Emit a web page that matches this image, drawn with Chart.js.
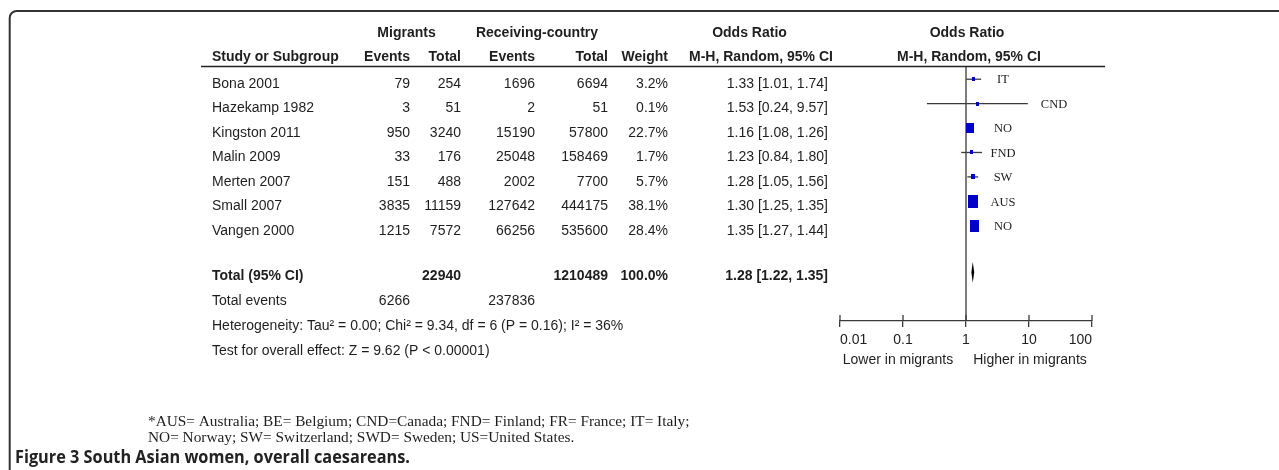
<!DOCTYPE html>
<html><head><meta charset="utf-8">
<script src="https://cdn.jsdelivr.net/npm/chart.js@4.4.1/dist/chart.umd.min.js"></script>
<style>html,body{margin:0;padding:0;background:#fff;}canvas{display:block;}</style>
</head><body>
<canvas id="c" width="1279" height="470"></canvas>
<script>
// ---- data ----
const studies = ['Bona 2001','Hazekamp 1982','Kingston 2011','Malin 2009','Merten 2007','Small 2007','Vangen 2000'];
const countries = ['IT','CND','NO','FND','SW','AUS','NO'];
const migEvents = [79,3,950,33,151,3835,1215];
const migTotal = [254,51,3240,176,488,11159,7572];
const recEvents = [1696,2,15190,25048,2002,127642,66256];
const recTotal = [6694,51,57800,158469,7700,444175,535600];
const weights = [3.2,0.1,22.7,1.7,5.7,38.1,28.4];
const oddsRatio = [1.33,1.53,1.16,1.23,1.28,1.30,1.35];
const ciLow = [1.01,0.24,1.08,0.84,1.05,1.25,1.27];
const ciHigh = [1.74,9.57,1.26,1.80,1.56,1.35,1.44];
const totalOR = 1.28, totalLow = 1.22, totalHigh = 1.35, totalWeight = 100.0;
const axisTicks = [0.01,0.1,1,10,100];
const tickLabels = ['0.01','0.1','1','10','100'];
const hetStats = ['0.00','9.34','6','0.16','36']; // Tau², Chi², df, P, I²
const overallStats = ['9.62','< 0.00001'];       // Z, P
const footnotes = ['*AUS= Australia; BE= Belgium; CND=Canada; FND= Finland; FR= France; IT= Italy;',
                   'NO= Norway; SW= Switzerland; SWD= Sweden; US=United States.'];
const caption = 'Figure 3 South Asian women, overall caesareans.';

// ---- styles ----
const TOTAL_ROW = 7.9;
const BLUE = 'rgb(0,0,200)';
const INK = '#1e1e1e';
const LINE = '#3a3a3a';
const SANS = '"Liberation Sans", Arial, sans-serif';
const SERIF = '"Liberation Serif", "Times New Roman", serif';

function markerImage(w){
  const side = Math.max(3, Math.round(1.65*Math.sqrt(w)));
  const h = Math.max(4, Math.round(side*1.3));
  const cv = document.createElement('canvas');
  cv.width = side; cv.height = h;
  const g = cv.getContext('2d'); g.fillStyle = BLUE; g.fillRect(0,0,side,h);
  return cv;
}
const markerImgs = weights.map(markerImage);

const sum = a => a.reduce((p,q)=>p+q,0);

const forestPlugin = {
  id:'forest',
  afterDraw(chart){
    const c = chart.ctx, xs = chart.scales.x, ys = chart.scales.y, ca = chart.chartArea;
    c.save();
    // frame
    c.strokeStyle = '#333'; c.lineWidth = 2;
    c.beginPath(); c.moveTo(9.7,470); c.lineTo(9.7,18); c.arcTo(9.7,11,17,11,7); c.lineTo(1279,11); c.stroke();
    // header rule
    c.strokeStyle = '#222'; c.lineWidth = 1.5;
    c.beginPath(); c.moveTo(201,66.5); c.lineTo(1105,66.5); c.stroke();
    // upper halves of axis ticks
    c.strokeStyle = LINE; c.lineWidth = 1.3;
    axisTicks.forEach(v=>{ const x = xs.getPixelForValue(v); c.beginPath(); c.moveTo(x,ca.bottom-6); c.lineTo(x,ca.bottom); c.stroke(); });
    // diamond
    const yc = ys.getPixelForValue(TOTAL_ROW);
    c.fillStyle = '#000';
    c.beginPath();
    c.moveTo(xs.getPixelForValue(totalLow), yc);
    c.lineTo(xs.getPixelForValue(totalOR), yc-10.5);
    c.lineTo(xs.getPixelForValue(totalHigh), yc);
    c.lineTo(xs.getPixelForValue(totalOR), yc+10.5);
    c.closePath(); c.fill();

    c.textBaseline = 'middle';
    const t = (s,x,y,align,bold,size,fam) => {
      c.font = (bold?'bold ':'') + (size||14) + 'px ' + (fam||SANS);
      c.textAlign = align||'left'; c.fillStyle = INK; c.fillText(s,x,y);
    };
    // headers
    t('Migrants',406.5,33,'center',true);
    t('Receiving-country',537,33,'center',true);
    t('Odds Ratio',749.5,33,'center',true);
    t('Odds Ratio',967,33,'center',true);
    t('Study or Subgroup',212,57,'left',true);
    t('Events',410,57,'right',true);
    t('Total',461,57,'right',true);
    t('Events',535,57,'right',true);
    t('Total',608,57,'right',true);
    t('Weight',668,57,'right',true);
    t('M-H, Random, 95% CI',761,57,'center',true);
    t('M-H, Random, 95% CI',969,57,'center',true);
    // study rows
    studies.forEach((s,i)=>{
      const y = ys.getPixelForValue(i)+5;
      t(s,212,y);
      t(String(migEvents[i]),410,y,'right');
      t(String(migTotal[i]),461,y,'right');
      t(String(recEvents[i]),535,y,'right');
      t(String(recTotal[i]),608,y,'right');
      t(weights[i].toFixed(1)+'%',668,y,'right');
      t(oddsRatio[i].toFixed(2)+' ['+ciLow[i].toFixed(2)+', '+ciHigh[i].toFixed(2)+']',828,y,'right');
      // country label
      const hx = xs.getPixelForValue(ciHigh[i]);
      const ly = ys.getPixelForValue(i)+1;
      if (hx > 990) t(countries[i],hx+13,ly,'left',false,12.5,SERIF);
      else t(countries[i],1003,ly,'center',false,12.5,SERIF);
    });
    // totals
    const ty = yc+4;
    t('Total (95% CI)',212,ty,'left',true);
    t(String(sum(migTotal)),461,ty,'right',true);
    t(String(sum(recTotal)),608,ty,'right',true);
    t(totalWeight.toFixed(1)+'%',668,ty,'right',true);
    t(totalOR.toFixed(2)+' ['+totalLow.toFixed(2)+', '+totalHigh.toFixed(2)+']',828,ty,'right',true);
    t('Total events',212,301);
    t(String(sum(migEvents)),410,301,'right');
    t(String(sum(recEvents)),535,301,'right');
    t('Heterogeneity: Tau\u00b2 = '+hetStats[0]+'; Chi\u00b2 = '+hetStats[1]+', df = '+hetStats[2]+' (P = '+hetStats[3]+'); I\u00b2 = '+hetStats[4]+'%',212,326);
    t('Test for overall effect: Z = '+overallStats[0]+' (P '+overallStats[1]+')',212,351);
    // axis side labels
    t('Lower in migrants',xs.getPixelForValue(0.1)-5,360,'center');
    t('Higher in migrants',xs.getPixelForValue(10)+1,360,'center');
    // footnotes (serif)
    c.font = '14px '+SERIF;
    const fsz = 14*542/c.measureText(footnotes[0]).width;
    t(footnotes[0],148,422,'left',false,fsz,SERIF);
    t(footnotes[1],148,438,'left',false,fsz,SERIF);
    // caption (bold condensed sans)
    c.font = 'bold 17px "Open Sans", sans-serif';
    const cw = c.measureText(caption).width;
    c.save(); c.translate(15,458.5); c.scale(395/cw,1);
    c.textAlign='left'; c.fillStyle = '#222'; c.fillText(caption,0,0);
    c.restore();
    c.restore();
  }
};

new Chart(document.getElementById('c'), {
  type:'scatter',
  data:{ datasets:[
    { label:'Odds ratio', data: studies.map((s,i)=>({x:oddsRatio[i], y:i})), pointStyle: markerImgs, pointRadius:5, pointHoverRadius:5, order:0 },
    ...studies.map((s,i)=>({ label:'CI '+s, data:[{x:ciLow[i],y:i},{x:ciHigh[i],y:i}], showLine:true, borderColor:LINE, borderWidth:1.3, pointRadius:0, order:1 })),
    { label:'No effect', data:[{x:1,y:-0.5},{x:1,y:9.9}], showLine:true, borderColor:LINE, borderWidth:1.3, pointRadius:0, order:2 }
  ]},
  options:{
    responsive:false, animation:false, devicePixelRatio:1,
    layout:{ padding:{ left:840, right:187, top:67, bottom:470-321-60 } },
    plugins:{ legend:{display:false}, tooltip:{enabled:false} },
    events:[],
    scales:{
      x:{ type:'logarithmic', min:0.01, max:100, position:'bottom',
          afterBuildTicks: s => { s.ticks = axisTicks.map(v=>({value:v})); },
          afterFit: s => { s.height = 60; },
          ticks:{ align:'inner', maxRotation:0, minRotation:0, autoSkip:false, padding:5, color:INK,
                  font:{ family:'"Liberation Sans", Arial, sans-serif', size:14 },
                  callback:(v,i)=>tickLabels[i] },
          grid:{ drawOnChartArea:false, drawTicks:true, tickLength:6, color:LINE, lineWidth:1.3 },
          border:{ display:true, color:LINE, width:1.3 } },
      y:{ type:'linear', min:-0.5, max:9.9, reverse:true, display:false }
    }
  },
  plugins:[forestPlugin]
});
</script>
</body></html>
